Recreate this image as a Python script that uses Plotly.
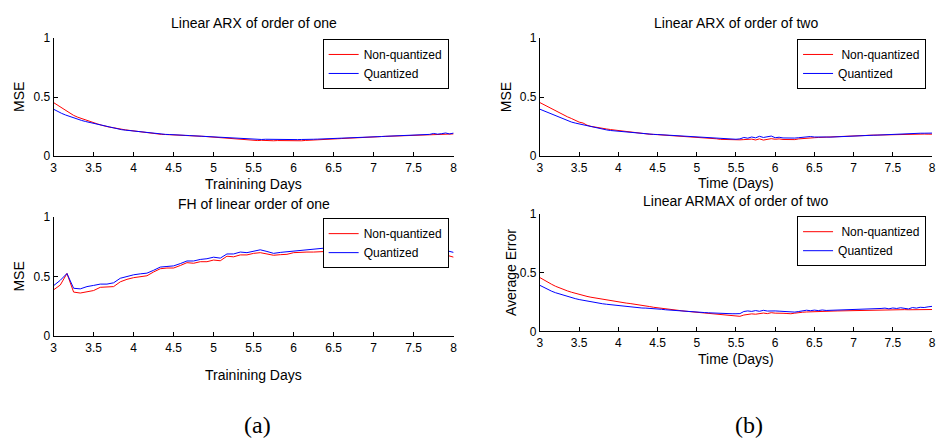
import plotly.graph_objects as go

# ---------------- data ----------------
x_days = [round(3 + 0.05 * i, 2) for i in range(101)]          # 3.00 .. 8.00
x_fh = [round(3 + i / 12, 4) for i in range(61)]                # 2-hour steps

arx1_nonq = [0.453, 0.430, 0.408, 0.385, 0.365, 0.345, 0.330, 0.318, 0.302, 0.290,
             0.282, 0.272, 0.262, 0.252, 0.245, 0.240, 0.232, 0.226, 0.222, 0.218,
             0.213, 0.210, 0.207, 0.203, 0.199, 0.194, 0.188, 0.184, 0.183, 0.182,
             0.181, 0.179, 0.177, 0.174, 0.172, 0.171, 0.170, 0.168, 0.166, 0.163,
             0.160, 0.157, 0.154, 0.150, 0.147, 0.145, 0.142, 0.140, 0.138, 0.135,
             0.133, 0.132, 0.134, 0.131, 0.133, 0.130, 0.132, 0.131, 0.133, 0.130,
             0.132, 0.131, 0.130, 0.133, 0.134, 0.137, 0.139, 0.141, 0.142, 0.144,
             0.145, 0.147, 0.149, 0.150, 0.152, 0.154, 0.156, 0.158, 0.159, 0.161,
             0.162, 0.164, 0.166, 0.167, 0.168, 0.169, 0.170, 0.172, 0.173, 0.175,
             0.176, 0.177, 0.178, 0.179, 0.181, 0.182, 0.186, 0.184, 0.188, 0.186,
             0.188]
arx1_q = [0.397, 0.378, 0.362, 0.348, 0.335, 0.322, 0.312, 0.302, 0.293, 0.285,
          0.277, 0.268, 0.260, 0.252, 0.245, 0.238, 0.230, 0.224, 0.220, 0.216,
          0.212, 0.209, 0.206, 0.202, 0.198, 0.193, 0.187, 0.184, 0.184, 0.183,
          0.182, 0.184, 0.179, 0.176, 0.174, 0.172, 0.171, 0.169, 0.167, 0.165,
          0.162, 0.160, 0.158, 0.154, 0.152, 0.150, 0.148, 0.146, 0.144, 0.143,
          0.142, 0.144, 0.141, 0.143, 0.142, 0.144, 0.141, 0.145, 0.140, 0.142,
          0.141, 0.140, 0.141, 0.140, 0.142, 0.143, 0.144, 0.145, 0.146, 0.148,
          0.149, 0.150, 0.151, 0.152, 0.154, 0.155, 0.157, 0.158, 0.160, 0.161,
          0.163, 0.165, 0.166, 0.168, 0.169, 0.170, 0.172, 0.173, 0.174, 0.176,
          0.177, 0.179, 0.180, 0.182, 0.184, 0.192, 0.186, 0.190, 0.196, 0.188,
          0.195]

fh1_nonq = [0.390, 0.430, 0.527, 0.371, 0.363, 0.374, 0.384, 0.411, 0.417, 0.417,
            0.457, 0.478, 0.492, 0.503, 0.508, 0.540, 0.567, 0.573, 0.573, 0.594,
            0.618, 0.613, 0.626, 0.626, 0.640, 0.634, 0.672, 0.667, 0.683, 0.683,
            0.696, 0.702, 0.694, 0.680, 0.685, 0.688, 0.702, 0.707, 0.707, 0.707,
            0.710, 0.712, 0.715, 0.710, 0.718, 0.720, 0.715, 0.712, 0.718, 0.720,
            0.715, 0.710, 0.708, 0.712, 0.705, 0.700, 0.698, 0.692, 0.688, 0.680,
            0.664]
fh1_q = [0.425, 0.470, 0.527, 0.403, 0.398, 0.417, 0.427, 0.438, 0.438, 0.449,
         0.487, 0.503, 0.516, 0.524, 0.530, 0.554, 0.581, 0.586, 0.591, 0.610,
         0.632, 0.632, 0.645, 0.651, 0.664, 0.656, 0.691, 0.691, 0.707, 0.702,
         0.712, 0.726, 0.712, 0.696, 0.704, 0.710, 0.718, 0.720, 0.726, 0.734,
         0.739, 0.742, 0.745, 0.740, 0.746, 0.748, 0.744, 0.740, 0.745, 0.748,
         0.742, 0.738, 0.736, 0.740, 0.735, 0.730, 0.728, 0.725, 0.722, 0.718,
         0.704]

arx2_nonq = [0.453, 0.435, 0.417, 0.400, 0.383, 0.365, 0.347, 0.333, 0.319, 0.302,
             0.288, 0.280, 0.262, 0.252, 0.245, 0.240, 0.236, 0.230, 0.225, 0.221,
             0.217, 0.212, 0.208, 0.204, 0.200, 0.194, 0.189, 0.187, 0.185, 0.184,
             0.182, 0.180, 0.178, 0.175, 0.172, 0.170, 0.168, 0.166, 0.164, 0.162,
             0.161, 0.159, 0.157, 0.155, 0.152, 0.147, 0.142, 0.140, 0.138, 0.137,
             0.136, 0.138, 0.140, 0.141, 0.144, 0.137, 0.146, 0.136, 0.143, 0.148,
             0.143, 0.146, 0.141, 0.139, 0.137, 0.140, 0.146, 0.150, 0.152, 0.154,
             0.156, 0.158, 0.159, 0.160, 0.161, 0.163, 0.164, 0.166, 0.167, 0.169,
             0.171, 0.172, 0.174, 0.175, 0.177, 0.178, 0.179, 0.180, 0.181, 0.182,
             0.183, 0.184, 0.186, 0.188, 0.189, 0.190, 0.189, 0.188, 0.187, 0.186,
             0.186]
arx2_q = [0.397, 0.383, 0.369, 0.355, 0.342, 0.328, 0.314, 0.301, 0.289, 0.280,
          0.272, 0.264, 0.256, 0.249, 0.242, 0.235, 0.228, 0.222, 0.217, 0.214,
          0.211, 0.208, 0.205, 0.201, 0.197, 0.192, 0.188, 0.186, 0.185, 0.184,
          0.183, 0.181, 0.179, 0.176, 0.173, 0.171, 0.169, 0.167, 0.165, 0.163,
          0.161, 0.159, 0.157, 0.155, 0.153, 0.150, 0.147, 0.146, 0.145, 0.144,
          0.143, 0.146, 0.158, 0.152, 0.162, 0.155, 0.168, 0.158, 0.163, 0.170,
          0.156, 0.160, 0.154, 0.152, 0.150, 0.153, 0.156, 0.160, 0.158, 0.166,
          0.162, 0.160, 0.161, 0.162, 0.161, 0.163, 0.165, 0.166, 0.167, 0.169,
          0.171, 0.175, 0.173, 0.175, 0.176, 0.177, 0.178, 0.180, 0.181, 0.182,
          0.183, 0.185, 0.187, 0.190, 0.192, 0.193, 0.193, 0.194, 0.194, 0.195,
          0.195]

armax2_nonq = [0.459, 0.438, 0.420, 0.402, 0.385, 0.370, 0.357, 0.346, 0.335, 0.325,
               0.316, 0.307, 0.299, 0.292, 0.286, 0.280, 0.275, 0.268, 0.261, 0.255,
               0.250, 0.246, 0.242, 0.238, 0.234, 0.229, 0.225, 0.218, 0.212, 0.206,
               0.201, 0.197, 0.193, 0.188, 0.184, 0.180, 0.177, 0.173, 0.170, 0.167,
               0.165, 0.161, 0.158, 0.154, 0.151, 0.147, 0.143, 0.141, 0.140, 0.139,
               0.137, 0.129, 0.140, 0.146, 0.150, 0.147, 0.154, 0.157, 0.152, 0.160,
               0.156, 0.158, 0.155, 0.153, 0.151, 0.156, 0.162, 0.164, 0.166, 0.168,
               0.170, 0.171, 0.172, 0.173, 0.173, 0.174, 0.175, 0.176, 0.176, 0.177,
               0.178, 0.178, 0.179, 0.179, 0.180, 0.181, 0.181, 0.182, 0.182, 0.183,
               0.184, 0.184, 0.188, 0.186, 0.185, 0.186, 0.182, 0.186, 0.187, 0.186,
               0.187]
armax2_q = [0.393, 0.374, 0.357, 0.343, 0.330, 0.319, 0.308, 0.298, 0.288, 0.280,
            0.272, 0.265, 0.258, 0.251, 0.245, 0.240, 0.236, 0.232, 0.228, 0.225,
            0.223, 0.218, 0.214, 0.210, 0.206, 0.203, 0.200, 0.199, 0.198, 0.195,
            0.192, 0.189, 0.185, 0.182, 0.179, 0.177, 0.174, 0.172, 0.170, 0.167,
            0.165, 0.163, 0.161, 0.159, 0.157, 0.154, 0.151, 0.151, 0.152, 0.151,
            0.151, 0.152, 0.170, 0.175, 0.171, 0.178, 0.172, 0.180, 0.174, 0.177,
            0.175, 0.173, 0.170, 0.166, 0.162, 0.165, 0.170, 0.176, 0.181, 0.177,
            0.182, 0.178, 0.183, 0.179, 0.180, 0.181, 0.182, 0.183, 0.183, 0.184,
            0.184, 0.186, 0.190, 0.186, 0.188, 0.192, 0.190, 0.196, 0.199, 0.193,
            0.200, 0.196, 0.202, 0.198, 0.192, 0.204, 0.199, 0.206, 0.204, 0.210,
            0.214]

x_ticks = [3, 3.5, 4, 4.5, 5, 5.5, 6, 6.5, 7, 7.5, 8]
x_tick_labels = ["3", "3.5", "4", "4.5", "5", "5.5", "6", "6.5", "7", "7.5", "8"]
y_ticks = [0, 0.5, 1]
y_tick_labels = ["0", "0.5", "1"]

panel_titles = ["Linear ARX of order of one", "FH of linear order of one",
                "Linear ARX of order of two", "Linear ARMAX of order of two"]
x_titles = ["Trainining Days", "Trainining Days", "Time (Days)", "Time (Days)"]
y_titles = ["MSE", "MSE", "MSE", "Average Error"]
legend_names = [("Non-quantized", "Quantized"), ("Non-quantized", "Quantized"),
                (" Non-quantized", "Quantized"), (" Non-quantized", "Quantized")]

# ---------------- layout helpers (pixel geometry) ----------------
W, H = 937, 444
FONT = "Liberation Sans, Arial, sans-serif"
# (left, right, top, bottom) of each axes in pixels
boxes = [(51, 454, 32, 154), (51, 454, 217, 340), (541, 936, 32, 154), (541, 936, 214, 335)]
legend_pos = [(449, 33), (449, 218), (930, 33), (930, 216)]
xlabel_y = [183, 380, 182, 363]
ylabel_x = [16, 16, 507, 512]
title_y = [17, 203, 17, 200]

series = [(x_days, arx1_nonq, arx1_q), (x_fh, fh1_nonq, fh1_q),
          (x_days, arx2_nonq, arx2_q), (x_days, armax2_nonq, armax2_q)]

fig = go.Figure()
layout = dict(width=W, height=H, margin=dict(l=0, r=0, t=0, b=0),
              paper_bgcolor="white", plot_bgcolor="white",
              font=dict(family=FONT, size=12, color="black"), annotations=[])

for k, (xs, yr, yb) in enumerate(series):
    n = k + 1
    sfx = "" if n == 1 else str(n)
    leg = "legend" if n == 1 else f"legend{n}"
    fig.add_trace(go.Scatter(x=xs, y=yr, mode="lines", name=legend_names[k][0],
                             line=dict(color="#ff0000", width=1),
                             xaxis=f"x{sfx}", yaxis=f"y{sfx}", legend=leg))
    fig.add_trace(go.Scatter(x=xs, y=yb, mode="lines", name=legend_names[k][1],
                             line=dict(color="#0000ff", width=1),
                             xaxis=f"x{sfx}", yaxis=f"y{sfx}", legend=leg))
    l, r, t, b = boxes[k]
    axis_common = dict(showgrid=False, zeroline=False, showline=True, linecolor="black",
                       linewidth=1, ticks="inside", ticklen=4, tickcolor="black",
                       tickfont=dict(family=FONT, size=12, color="black"))
    layout[f"xaxis{sfx}"] = dict(domain=[l / W, r / W], anchor=f"y{sfx}", range=[3, 8],
                                 tickvals=x_ticks, ticktext=x_tick_labels, **axis_common)
    layout[f"yaxis{sfx}"] = dict(domain=[1 - b / H, 1 - t / H], anchor=f"x{sfx}", range=[0, 1],
                                 tickvals=y_ticks, ticktext=y_tick_labels, **axis_common)
    lx, ly = legend_pos[k]
    layout[leg] = dict(x=lx / W, y=1 - ly / H, xanchor="right", yanchor="top",
                       xref="paper", yref="paper", bgcolor="white", bordercolor="black",
                       borderwidth=1, font=dict(family=FONT, size=12, color="black"),
                       itemwidth=30, tracegroupgap=0)
    cx = (l + r) / 2
    layout["annotations"] += [
        dict(text=panel_titles[k], x=cx / W, y=1 - title_y[k] / H, xref="paper", yref="paper",
             showarrow=False, xanchor="center", yanchor="middle",
             font=dict(family=FONT, size=14, color="black")),
        dict(text=x_titles[k], x=cx / W, y=1 - xlabel_y[k] / H, xref="paper", yref="paper",
             showarrow=False, xanchor="center", yanchor="middle",
             font=dict(family=FONT, size=14, color="black")),
        dict(text=y_titles[k], x=ylabel_x[k] / W, y=1 - (t + b) / 2 / H, xref="paper",
             yref="paper", showarrow=False, xanchor="center", yanchor="middle", textangle=-90,
             font=dict(family=FONT, size=14, color="black")),
    ]

layout["annotations"] += [
    dict(text="(a)", x=256 / W, y=1 - 432 / H, xref="paper", yref="paper", showarrow=False,
         xanchor="center", yanchor="middle",
         font=dict(family="Liberation Serif, Times New Roman, serif", size=24, color="black")),
    dict(text="(b)", x=752 / W, y=1 - 432 / H, xref="paper", yref="paper", showarrow=False,
         xanchor="center", yanchor="middle",
         font=dict(family="Liberation Serif, Times New Roman, serif", size=24, color="black")),
]

fig.update_layout(**layout)
fig.write_html("out.html")
